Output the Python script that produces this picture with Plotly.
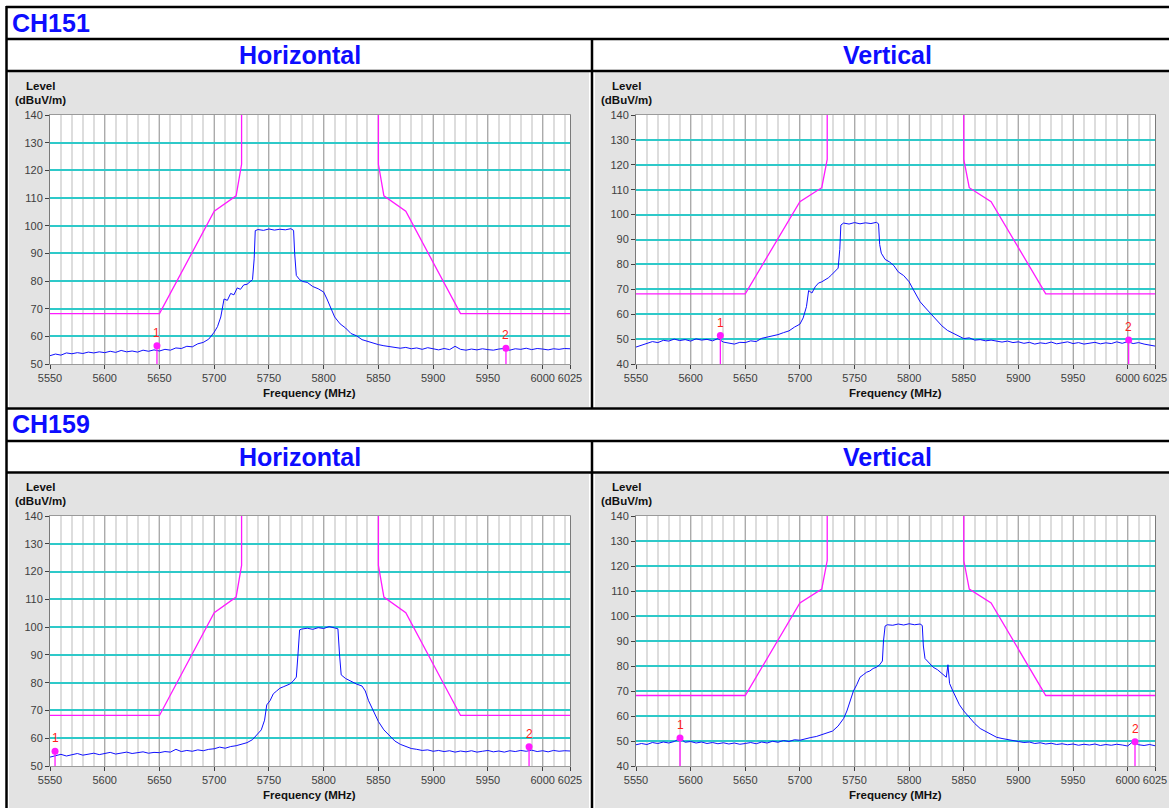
import plotly.graph_objects as go

W, H = 1169, 808

# ---------------- data ----------------
x_ticks = [5550, 5600, 5650, 5700, 5750, 5800, 5850, 5900, 5950, 6000, 6025]

mask_left_freq = [5550, 5650, 5700, 5720, 5725, 5725]
mask_left_level = [68.2, 68.2, 105.2, 110.8, 122.2, 140]
mask_right_freq = [5850, 5850, 5855, 5875, 5925, 6025]
mask_right_level = [140, 122.2, 110.8, 105.2, 68.2, 68.2]

ch151_h_freq = [5550, 5555, 5560, 5565, 5570, 5575, 5580, 5585, 5590, 5595, 5600, 5605, 5610, 5615, 5620, 5625,
                5630, 5635, 5640, 5645, 5650, 5655, 5660, 5665, 5670, 5675, 5680, 5685, 5690, 5695, 5700, 5703,
                5706, 5709, 5712, 5715, 5718, 5721, 5724, 5727, 5730, 5733, 5735, 5736.5, 5737.5, 5740, 5745,
                5750, 5755, 5760, 5765, 5770, 5772.5, 5773.5, 5775, 5778, 5781, 5785, 5790, 5795, 5800, 5803,
                5806, 5810, 5815, 5820, 5825, 5830, 5835, 5840, 5845, 5850, 5855, 5860, 5865, 5870, 5875, 5880,
                5885, 5890, 5895, 5900, 5905, 5910, 5915, 5920, 5925, 5930, 5935, 5940, 5945, 5950, 5955, 5960,
                5965, 5970, 5975, 5980, 5985, 5990, 5995, 6000, 6005, 6010, 6015, 6020, 6025]
ch151_h_level = [53.0, 53.6, 53.2, 54.0, 53.7, 54.1, 53.8, 54.3, 54.0, 54.4, 54.1, 54.6, 54.2, 54.9, 54.4, 54.7,
                 54.3, 55.0, 54.6, 55.1, 54.7, 55.3, 55.0, 55.8, 55.6, 56.4, 56.2, 57.3, 57.8, 59.0, 61.5, 63.5,
                 67.0, 73.5, 73.0, 75.5, 75.0, 77.5, 77.0, 78.6, 78.8, 80.0, 80.5, 88.0, 98.2, 98.6, 98.3,
                 98.8, 98.4, 98.7, 98.5, 98.9, 98.3, 90.0, 82.0, 80.5, 79.8, 79.5, 78.0, 77.2, 76.0, 73.5,
                 70.5, 67.0, 64.5, 63.0, 61.0, 60.2, 58.8, 58.2, 57.5, 57.0, 56.6, 56.3, 56.0, 55.7, 56.0, 55.5,
                 55.8, 55.3, 55.9, 55.4, 55.1, 55.6, 55.2, 56.4, 55.3, 55.0, 55.4, 55.1, 55.5, 55.2, 55.0, 55.4,
                 55.6, 55.0, 55.5, 55.3, 55.7, 55.2, 55.6, 55.4, 55.1, 55.5, 55.3, 55.6, 55.5]
ch151_h_marker_freq = [5647.7, 5966.5]
ch151_h_marker_level = [56.6, 55.7]

ch151_v_freq = [5550, 5555, 5560, 5565, 5570, 5575, 5580, 5585, 5590, 5595, 5600, 5605, 5610, 5615, 5620, 5625,
                5630, 5635, 5640, 5645, 5650, 5655, 5660, 5665, 5670, 5675, 5680, 5685, 5690, 5695, 5700, 5703,
                5706, 5708, 5711, 5714, 5717, 5720, 5723, 5726, 5729, 5732, 5735, 5736.5, 5737.5, 5740, 5745,
                5750, 5755, 5760, 5765, 5770, 5772, 5773, 5774.5, 5778, 5782, 5786, 5790, 5795, 5800, 5803,
                5806, 5810, 5815, 5820, 5825, 5830, 5835, 5840, 5845, 5850, 5855, 5860, 5865, 5870, 5875, 5880,
                5885, 5890, 5895, 5900, 5905, 5910, 5915, 5920, 5925, 5930, 5935, 5940, 5945, 5950, 5955, 5960,
                5965, 5970, 5975, 5980, 5985, 5990, 5995, 6000, 6005, 6010, 6015, 6020, 6025]
ch151_v_level = [46.8, 47.5, 48.3, 49.0, 48.6, 49.5, 49.2, 50.0, 49.4, 49.8, 49.2, 50.1, 49.6, 49.9, 49.3, 50.2,
                 48.8, 48.4, 48.0, 48.7, 48.6, 49.3, 49.0, 50.3, 50.8, 51.2, 51.8, 52.6, 53.3, 54.8, 56.0, 58.5,
                 63.0, 69.5, 68.5, 71.0, 72.5, 73.0, 73.8, 74.6, 75.8, 77.0, 78.5, 86.0, 95.8, 96.6, 96.2,
                 96.8, 96.3, 96.7, 96.4, 96.9, 96.3, 88.0, 84.5, 82.0, 81.0, 79.5, 77.0, 75.5, 73.0, 70.5,
                 68.0, 65.0, 62.5, 60.0, 57.5, 55.3, 53.5, 52.4, 51.2, 50.2, 50.5, 49.6, 49.8, 49.3, 49.6, 49.1,
                 48.8, 49.2, 48.6, 48.9, 48.3, 48.7, 48.0, 48.5, 48.2, 48.8, 48.1, 48.5, 48.9, 48.2, 48.6, 48.0,
                 48.4, 48.7, 48.1, 48.5, 48.2, 48.9, 48.3, 49.0, 48.2, 48.6, 48.0, 47.6, 47.2]
ch151_v_marker_freq = [5627.2, 6000.9]
ch151_v_marker_level = [51.4, 49.6]

ch159_h_freq = [5550, 5555, 5560, 5565, 5570, 5575, 5580, 5585, 5590, 5595, 5600, 5605, 5610, 5615, 5620, 5625,
                5630, 5635, 5640, 5645, 5650, 5655, 5660, 5665, 5670, 5675, 5680, 5685, 5690, 5695, 5700, 5705,
                5710, 5715, 5720, 5725, 5730, 5735, 5740, 5743, 5746, 5748, 5751, 5754, 5757, 5760, 5763, 5766,
                5769, 5772, 5775, 5776.5, 5778, 5780, 5785, 5790, 5795, 5800, 5805, 5810, 5813, 5814.5, 5816,
                5820, 5825, 5830, 5835, 5838, 5841, 5845, 5850, 5855, 5860, 5865, 5870, 5875, 5880, 5885, 5890,
                5895, 5900, 5905, 5910, 5915, 5920, 5925, 5930, 5935, 5940, 5945, 5950, 5955, 5960, 5965, 5970,
                5975, 5980, 5985, 5990, 5995, 6000, 6005, 6010, 6015, 6020, 6025]
ch159_h_level = [53.2, 53.8, 54.2, 53.6, 54.0, 54.5, 53.9, 54.3, 54.6, 54.1, 54.4, 54.9, 54.3, 54.7, 55.0, 54.5,
                 54.8, 55.1, 54.6, 54.9, 54.8, 55.2, 55.0, 56.0, 55.2, 55.6, 55.3, 55.8, 55.5, 56.0, 56.2, 56.8,
                 56.4, 57.0, 57.3, 57.8, 58.4, 59.5, 61.5, 63.0, 66.5, 72.0, 73.5, 76.0, 77.0, 78.0, 78.5, 79.0,
                 79.5, 80.5, 82.0, 90.0, 99.0, 99.3, 99.6, 99.2, 99.8, 99.5, 100.2, 99.7, 99.4, 90.0, 82.8,
                 81.5, 80.5, 79.5, 78.8, 77.0, 73.5, 70.0, 66.0, 63.0, 61.0, 59.0, 57.8, 57.0, 56.3, 56.0, 55.6,
                 55.8, 55.3, 55.6, 55.2, 55.5, 55.0, 55.4, 55.1, 55.5, 55.0, 55.3, 55.6, 55.1, 55.4, 55.0, 55.5,
                 55.2, 55.6, 55.3, 55.7, 55.2, 55.5, 55.1, 55.6, 55.3, 55.5, 55.4]
ch159_h_marker_freq = [5554.6, 5987.6]
ch159_h_marker_level = [55.3, 56.9]

ch159_v_freq = [5550, 5555, 5560, 5565, 5570, 5575, 5580, 5585, 5590, 5595, 5600, 5605, 5610, 5615, 5620, 5625,
                5630, 5635, 5640, 5645, 5650, 5655, 5660, 5665, 5670, 5675, 5680, 5685, 5690, 5695, 5700, 5705,
                5710, 5715, 5720, 5725, 5730, 5735, 5740, 5743, 5746, 5749, 5752, 5755, 5758, 5761, 5764, 5767,
                5770, 5773, 5775.5, 5776.5, 5778, 5780, 5785, 5790, 5795, 5800, 5805, 5810, 5812, 5813, 5814.5,
                5818, 5822, 5826, 5830, 5834, 5835.5, 5837, 5840, 5843, 5846, 5850, 5855, 5860, 5865, 5870, 5875,
                5880, 5885, 5890, 5895, 5900, 5905, 5910, 5915, 5920, 5925, 5930, 5935, 5940, 5945, 5950, 5955,
                5960, 5965, 5970, 5975, 5980, 5985, 5990, 5995, 6000, 6005, 6010, 6015, 6020, 6025]
ch159_v_level = [48.5, 49.0, 48.6, 49.4, 49.0, 49.6, 49.2, 49.8, 51.0, 49.5, 49.8, 49.2, 49.6, 49.0, 49.4, 48.9,
                 49.3, 48.8, 49.2, 48.7, 49.0, 49.4, 48.9, 49.6, 49.2, 49.9, 49.5, 50.2, 49.8, 50.5, 50.3, 51.0,
                 51.4, 51.8, 52.5, 53.0, 54.0, 56.0, 59.0, 62.0, 66.5, 70.0, 72.5, 75.5, 76.5, 77.5, 78.0, 79.0,
                 79.5, 80.5, 82.0, 90.0, 96.0, 96.5, 96.3, 96.8, 96.4, 96.9, 96.5, 96.8, 96.2, 88.0, 83.0,
                 81.5, 79.5, 78.5, 77.0, 75.5, 80.5, 73.0, 70.0, 67.0, 64.5, 62.0, 59.5, 57.0, 55.0, 53.8, 52.5,
                 51.5, 51.0, 50.5, 50.0, 49.8, 49.4, 49.6, 49.0, 49.3, 48.8, 49.1, 48.6, 48.9, 48.5, 48.8, 48.3,
                 48.7, 48.4, 48.8, 48.2, 48.6, 48.3, 48.7, 48.4, 48.0, 49.8, 48.5, 48.2, 48.6, 48.1]
ch159_v_marker_freq = [5590.3, 6006.7]
ch159_v_marker_level = [51.2, 49.7]

group_titles = ["CH151", "CH159"]
pol_titles = ["Horizontal", "Vertical"]

# ---------------- layout helpers ----------------
FONT = "Arial, Liberation Sans, Helvetica, sans-serif"
BLUE = "#0d0dff"
GRAY_BG = "#e3e3e3"
TRACE = "#1010ff"
MAGENTA = "#ff1aff"


def px(x):
    return x / W


def py(y):
    return 1 - y / H


panels = [
    dict(freq=ch151_h_freq, level=ch151_h_level, mf=ch151_h_marker_freq, ml=ch151_h_marker_level,
         x0=50, x1=570, yt=115, yb=364, ymin=50),
    dict(freq=ch151_v_freq, level=ch151_v_level, mf=ch151_v_marker_freq, ml=ch151_v_marker_level,
         x0=636, x1=1155, yt=115, yb=364, ymin=40),
    dict(freq=ch159_h_freq, level=ch159_h_level, mf=ch159_h_marker_freq, ml=ch159_h_marker_level,
         x0=50, x1=570, yt=516, yb=766, ymin=50),
    dict(freq=ch159_v_freq, level=ch159_v_level, mf=ch159_v_marker_freq, ml=ch159_v_marker_level,
         x0=636, x1=1155, yt=516, yb=766, ymin=40),
]

fig = go.Figure()
shapes = []
annotations = []

for (gx0, gx1) in [(9, 589), (595, 1169)]:
    for (gy0, gy1) in [(72, 407), (474, 808)]:
        shapes.append(dict(type="rect", xref="paper", yref="paper", x0=px(gx0), x1=px(gx1),
                           y0=py(gy1), y1=py(gy0), fillcolor=GRAY_BG, line=dict(width=0), layer="below"))
for p in panels:
    shapes.append(dict(type="rect", xref="paper", yref="paper", x0=px(p["x0"]), x1=px(p["x1"]),
                       y0=py(p["yb"]), y1=py(p["yt"]), fillcolor="white", line=dict(width=0), layer="below"))

BL = dict(color="black", width=2.5)
for yy in [7, 39, 71, 408.5, 441, 472.5]:
    shapes.append(dict(type="line", xref="paper", yref="paper", x0=px(6), x1=1, y0=py(yy), y1=py(yy),
                       line=BL, layer="above"))
shapes.append(dict(type="line", xref="paper", yref="paper", x0=px(6.5), x1=px(6.5), y0=py(6), y1=0,
                   line=BL, layer="above"))
for (a, b) in [(39, 408.5), (441, 808)]:
    shapes.append(dict(type="line", xref="paper", yref="paper", x0=px(592), x1=px(592), y0=py(a), y1=py(b),
                       line=BL, layer="above"))

for gi, (gt, ty, hy) in enumerate(zip(group_titles, [23, 424], [55, 457])):
    annotations.append(dict(text=gt, xref="paper", yref="paper", x=px(10), y=py(ty), xanchor="left",
                            yanchor="middle", showarrow=False,
                            font=dict(family=FONT, size=25, color=BLUE, weight="bold")))
    for pt, cx in zip(pol_titles, [300, 887]):
        annotations.append(dict(text=pt, xref="paper", yref="paper", x=px(cx), y=py(hy), xanchor="center",
                                yanchor="middle", showarrow=False,
                                font=dict(family=FONT, size=25, color=BLUE, weight="bold")))

layout_axes = {}
for i, p in enumerate(panels):
    n = "" if i == 0 else str(i + 1)
    xname, yname = "x" + n, "y" + n
    fig.add_trace(go.Scatter(x=mask_left_freq, y=mask_left_level, mode="lines",
                             line=dict(color=MAGENTA, width=1.3), xaxis=xname, yaxis=yname,
                             showlegend=False, hoverinfo="skip"))
    fig.add_trace(go.Scatter(x=mask_right_freq, y=mask_right_level, mode="lines",
                             line=dict(color=MAGENTA, width=1.3), xaxis=xname, yaxis=yname,
                             showlegend=False, hoverinfo="skip"))
    fig.add_trace(go.Scatter(x=p["freq"], y=p["level"], mode="lines", line=dict(color=TRACE, width=1),
                             xaxis=xname, yaxis=yname, showlegend=False))
    for k, (mf, ml) in enumerate(zip(p["mf"], p["ml"])):
        fig.add_trace(go.Scatter(x=[mf, mf], y=[p["ymin"], ml], mode="lines",
                                 line=dict(color=MAGENTA, width=1.3), xaxis=xname, yaxis=yname,
                                 showlegend=False, hoverinfo="skip"))
        fig.add_trace(go.Scatter(x=[mf], y=[ml], mode="markers",
                                 marker=dict(color=MAGENTA, size=7), xaxis=xname, yaxis=yname,
                                 showlegend=False))
        annotations.append(dict(text=str(k + 1), xref=xname, yref=yname, x=mf, y=ml, yshift=13,
                                showarrow=False, font=dict(family=FONT, size=12, color="#ff2020")))

    layout_axes["xaxis" + n] = dict(
        domain=[px(p["x0"]), px(p["x1"])], range=[5550, 6025], anchor=yname,
        tickmode="array", tickvals=x_ticks, ticktext=[str(v) for v in x_ticks],
        ticks="outside", ticklen=4, tickwidth=1, tickcolor="#404040",
        tickfont=dict(family=FONT, size=11, color="#404040"),
        showgrid=True, gridcolor="#ababab", gridwidth=1,
        minor=dict(tickmode="linear", tick0=5550, dtick=10, showgrid=True, gridcolor="#dddddd",
                   gridwidth=2, ticks=""),
        showline=True, linecolor="#9a9a9a", linewidth=1, mirror=True, zeroline=False, fixedrange=True,
        automargin=False)
    layout_axes["yaxis" + n] = dict(
        domain=[py(p["yb"]), py(p["yt"])], range=[p["ymin"], 140], anchor=xname,
        tickmode="linear", tick0=p["ymin"], dtick=10,
        ticks="outside", ticklen=4, tickwidth=1, tickcolor="#404040",
        tickfont=dict(family=FONT, size=11, color="#404040"),
        showgrid=True, gridcolor="#2ec9c9", gridwidth=1.5,
        showline=True, linecolor="#7a7a7a", linewidth=1, mirror=True, zeroline=False, fixedrange=True,
        automargin=False)

    cx_label = p["x0"] - 10
    annotations.append(dict(text="Level", xref="paper", yref="paper", x=px(cx_label), y=py(p["yt"] - 29),
                            xanchor="center", yanchor="middle", showarrow=False,
                            font=dict(family=FONT, size=11.5, color="#111111", weight="bold")))
    annotations.append(dict(text="(dBuV/m)", xref="paper", yref="paper", x=px(cx_label), y=py(p["yt"] - 15),
                            xanchor="center", yanchor="middle", showarrow=False,
                            font=dict(family=FONT, size=11.5, color="#111111", weight="bold")))
    annotations.append(dict(text="Frequency (MHz)", xref="paper", yref="paper",
                            x=px((p["x0"] + p["x1"]) / 2), y=py(p["yb"] + 29),
                            xanchor="center", yanchor="middle", showarrow=False,
                            font=dict(family=FONT, size=11.5, color="#111111", weight="bold")))

fig.update_layout(
    width=W, height=H, margin=dict(l=0, r=0, t=0, b=0, pad=0, autoexpand=False),
    paper_bgcolor="white", plot_bgcolor="rgba(0,0,0,0)",
    shapes=shapes, annotations=annotations, showlegend=False,
    font=dict(family=FONT),
    **layout_axes,
)

fig.write_html("out.html", config={"displayModeBar": False, "responsive": False},
               post_script="document.body.style.margin='0';document.body.style.overflow='hidden';")
